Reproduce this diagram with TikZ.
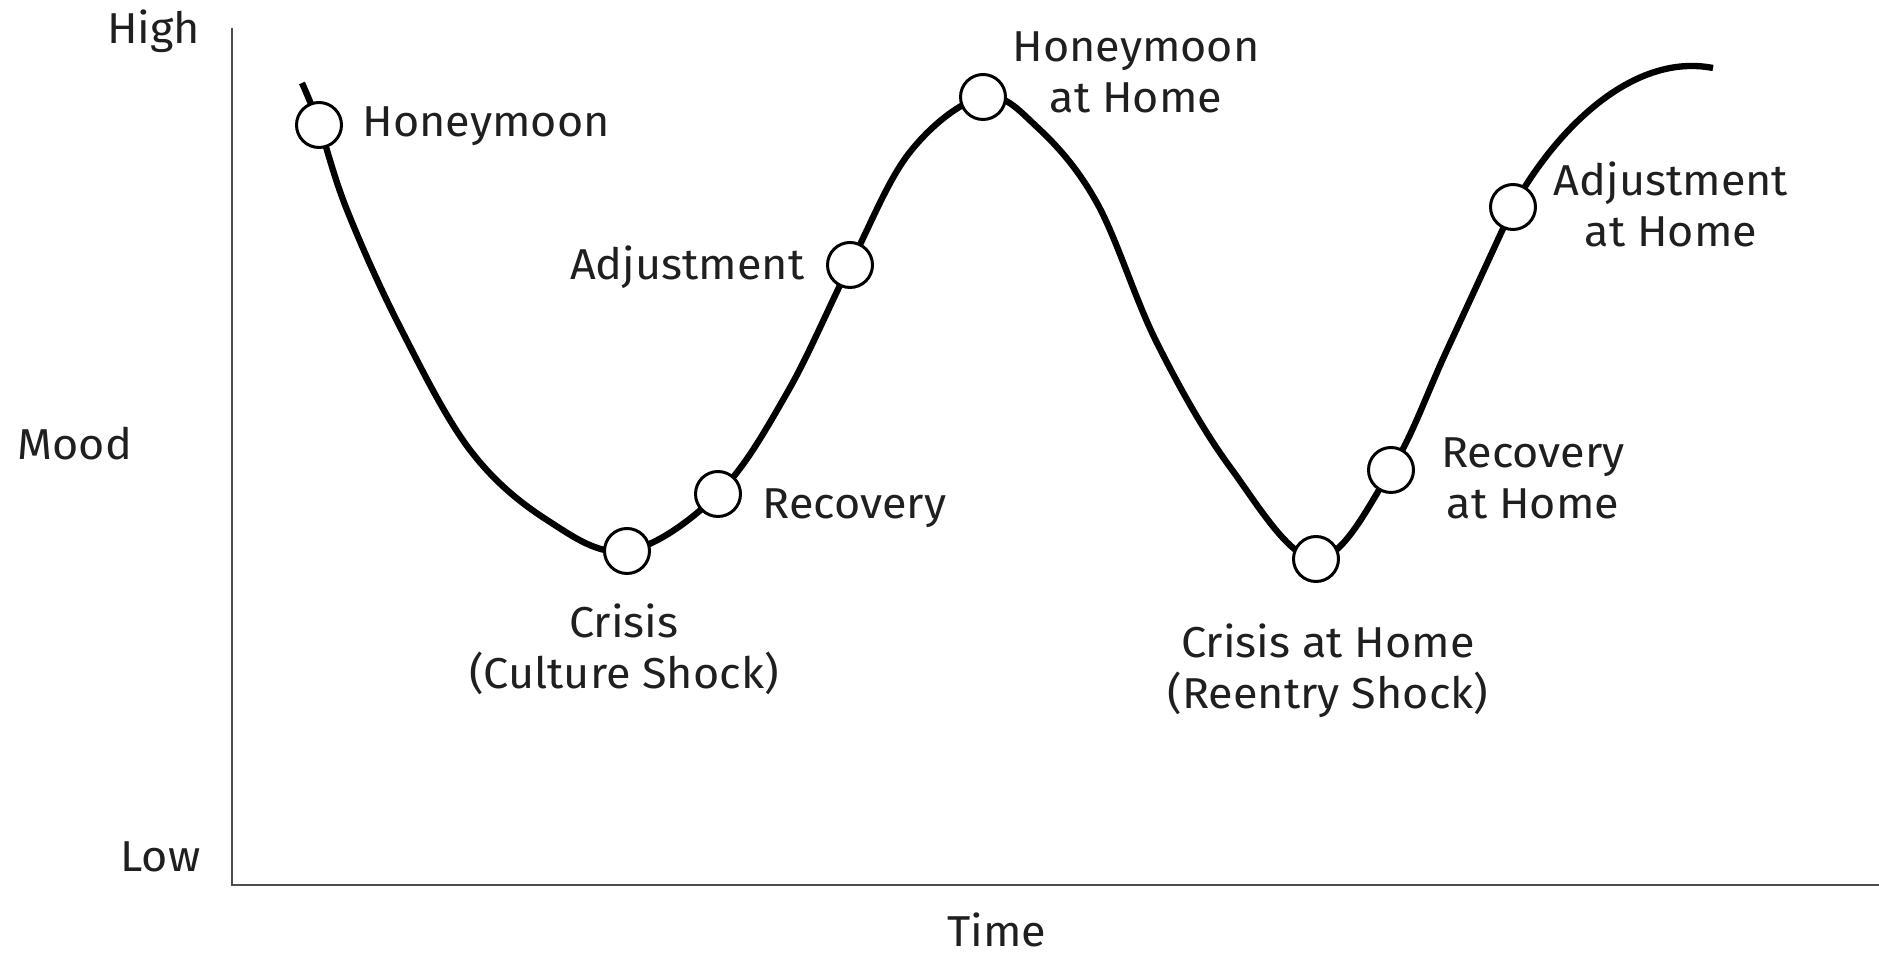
\documentclass[tikz,border=0pt]{standalone}
\usepackage{fontspec}
\setmainfont[FakeStretch=1.04]{Fira Sans}
\begin{document}
\begin{tikzpicture}[x=0.1mm,y=-0.1mm,
  pt/.style={circle,draw=black,fill=white,line width=0.85pt,minimum size=4.5mm,inner sep=0pt},
  lbl/.style={font=\fontsize{12.3}{14.6}\selectfont,inner sep=0pt,align=center,text=black!88},
  curve/.style={line width=1.8pt,line cap=butt,line join=round},
  axis/.style={line width=0.6pt,draw=black!70}]
\useasboundingbox (0,0) rectangle (1879,955);
% axes
\coordinate (ytop) at (232,28);
\coordinate (origin) at (232,885);
\coordinate (xend) at (1879,885);
\draw[axis] (ytop) -- (origin) -- (xend);
% stage positions
\coordinate (s) at (302,83);
\coordinate (hm) at (319,125);
\coordinate (cr) at (627,551);
\coordinate (rc) at (718,494);
\coordinate (ad) at (850,265);
\coordinate (hh) at (983,97);
\coordinate (ch) at (1316,559);
\coordinate (rh) at (1391,470);
\coordinate (ah) at (1513,207);
\coordinate (e) at (1713,68);
% curve
\draw[curve] plot[smooth,tension=0.6] coordinates {(s) (hm) (347,210) (400,327) (470,450) (547,520) (cr) (rc) (787,393) (ad) (910,152) (hh) (1037,127) (1097,203) (1157,343) (1230,467) (ch) (rh) (1447,350) (ah)} .. controls (1553,134) and (1630,52) .. (e);
% stage markers
\node[pt] (nhm) at (hm) {};
\node[pt] (ncr) at (cr) {};
\node[pt] (nrc) at (rc) {};
\node[pt] (nad) at (ad) {};
\node[pt] (nhh) at (hh) {};
\node[pt] (nch) at (ch) {};
\node[pt] (nrh) at (rh) {};
\node[pt] (nah) at (ah) {};
% axis labels
\node[lbl,anchor=base east] (high) at (201,44) {High};
\node[lbl,anchor=base west] (mood) at (17,460) {Mood};
\node[lbl,anchor=base east] (low) at (201,872) {Low};
\node[lbl,anchor=base] (time) at (997,947) {Time};
% stage labels
\node[lbl,anchor=base west] (lhm) at (362,137) {Honeymoon};
\node[lbl,anchor=base east] (lad) at (805,280) {Adjustment};
\node[lbl,anchor=base west] (lrc) at (762,519) {Recovery};
\node[lbl,anchor=north] (lcr) at (624,603) {Crisis\\(Culture Shock)};
\node[lbl,anchor=north] (lhh) at (1136,31) {Honeymoon\\at Home};
\node[lbl,anchor=north] (lah) at (1671,161) {Adjustment\\at Home};
\node[lbl,anchor=north] (lrh) at (1533,437) {Recovery\\at Home};
\node[lbl,anchor=north] (lch) at (1328,623) {Crisis at Home\\(Reentry Shock)};
\end{tikzpicture}
\end{document}
